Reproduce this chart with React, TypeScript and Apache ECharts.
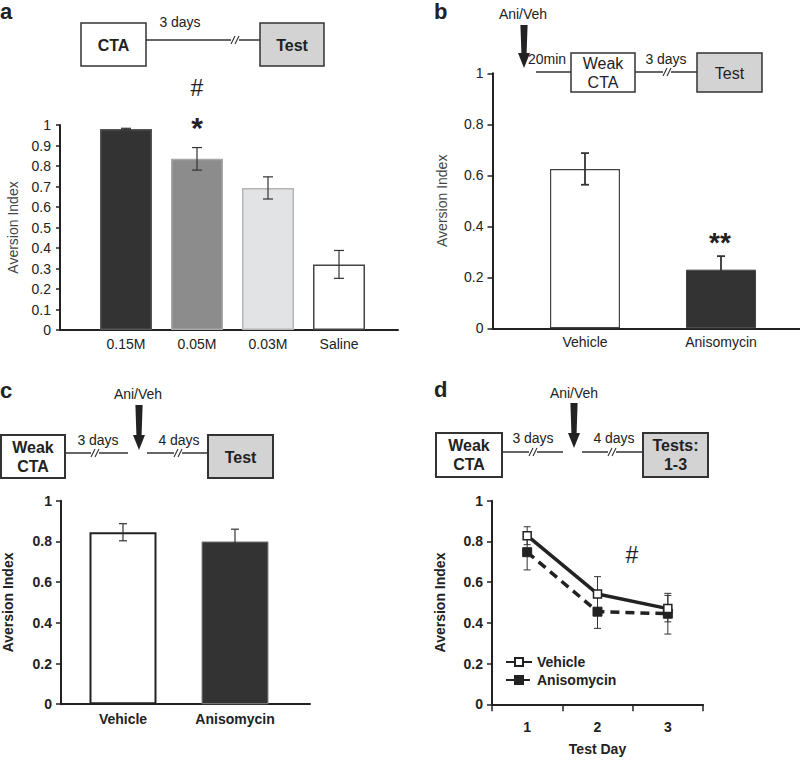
import React, { useEffect, useRef } from "react";
import * as echarts from "echarts";

const FONT = "'Liberation Sans', Arial, Helvetica, sans-serif";

// Panel a
const aCats = ["0.15M", "0.05M", "0.03M", "Saline"];
const aMeans = [0.98, 0.835, 0.693, 0.32];
const aErrs = [0.004, 0.055, 0.054, 0.068];
// Panel b
const bCats = ["Vehicle", "Anisomycin"];
const bMeans = [0.625, 0.23];
const bErrs = [0.062, 0.053];
// Panel c
const cCats = ["Vehicle", "Anisomycin"];
const cMeans = [0.845, 0.8];
const cErrs = [0.042, 0.06];
// Panel d
const dDays = ["1", "2", "3"];
const dVehicle = [0.828, 0.542, 0.47];
const dVehicleErr = [0.044, 0.085, 0.065];
const dAniso = [0.747, 0.455, 0.445];
const dAnisoErr = [0.087, 0.082, 0.1];

const aColors = ["#333333", "#8c8c8c", "#e2e3e5", "#ffffff"];
const aBorders = ["#555555", "#a8a8a8", "#b5b5b5", "#444444"];

function errRender(cap: number, lw: number, color: string) {
  return (params: any, api: any) => {
    const x = api.value(0);
    const lo = api.value(1);
    const hi = api.value(2);
    const p1 = api.coord([x, hi]);
    const p2 = api.coord([x, lo]);
    const w = cap / 2;
    const style = { stroke: color, lineWidth: lw };
    return {
      type: "group",
      children: [
        { type: "line", shape: { x1: p1[0], y1: p1[1], x2: p2[0], y2: p2[1] }, style },
        { type: "line", shape: { x1: p1[0] - w, y1: p1[1], x2: p1[0] + w, y2: p1[1] }, style },
        { type: "line", shape: { x1: p2[0] - w, y1: p2[1], x2: p2[0] + w, y2: p2[1] }, style },
      ],
    };
  };
}

function errData(means: number[], errs: number[]) {
  return means.map((m, i) => [i, m - errs[i], m + errs[i]]);
}

function txt(x: number, y: number, text: string, size: number, weight: string = "normal", align: string = "center", lineHeight?: number) {
  return {
    type: "text",
    x,
    y,
    style: {
      text,
      fontSize: size,
      fontWeight: weight,
      fontFamily: FONT,
      fill: "#222",
      align,
      verticalAlign: "middle",
      lineHeight: lineHeight || size * 1.2,
    },
  };
}

function box(x: number, y: number, w: number, h: number, fill: string, lw: number) {
  return {
    type: "rect",
    shape: { x, y, width: w, height: h },
    style: { fill, stroke: "#333", lineWidth: lw },
  };
}

function hline(x1: number, x2: number, y: number, lw = 1.5) {
  return { type: "line", shape: { x1, y1: y, x2, y2: y }, style: { stroke: "#333", lineWidth: lw } };
}

function breakLine(x1: number, x2: number, y: number, bx: number) {
  const els: any[] = [hline(x1, bx - 4, y), hline(bx + 4, x2, y)];
  [-2, 2].forEach((dx) => {
    els.push({
      type: "line",
      shape: { x1: bx + dx - 2, y1: y + 4, x2: bx + dx + 2, y2: y - 4 },
      style: { stroke: "#333", lineWidth: 1.1 },
    });
  });
  return els;
}

function arrow(x: number, yTop: number, yBot: number) {
  const h = yBot - 15;
  return {
    type: "polygon",
    shape: {
      points: [
        [x - 3.6, yTop],
        [x + 3.6, yTop],
        [x + 2.6, h],
        [x + 6, h],
        [x, yBot],
        [x - 6, h],
        [x - 2.6, h],
      ],
    },
    style: { fill: "#222" },
  };
}

const axisLineStyle = { color: "#222", width: 2 };

export default function App() {
  const ref = useRef<HTMLDivElement>(null);
  useEffect(() => {
    if (!ref.current) return;
    const chart = echarts.init(ref.current, undefined, { renderer: "svg", width: 800, height: 760 });

    const grids = [
      { left: 60, top: 125, width: 338, height: 205 }, // 0 a axis
      { left: 90.5, top: 125, width: 284, height: 205 }, // 1 a bars
      { left: 492.5, top: 73.3, width: 307, height: 255 }, // 2 b axis
      { left: 517, top: 73.3, width: 272, height: 255 }, // 3 b bars
      { left: 61, top: 500.7, width: 249, height: 203.5 }, // 4 c axis
      { left: 67, top: 500.7, width: 224, height: 203.5 }, // 5 c bars
      { left: 492, top: 500.7, width: 211, height: 203.6 }, // 6 d
    ];

    const lineOnlyX = (gi: number) => ({
      type: "value",
      gridIndex: gi,
      min: 0,
      max: 1,
      axisLine: { show: true, lineStyle: axisLineStyle },
      axisTick: { show: false },
      axisLabel: { show: false },
      splitLine: { show: false },
    });
    const catX = (gi: number, data: string[], bold: boolean, size: number, margin: number) => ({
      type: "category",
      gridIndex: gi,
      data,
      axisLine: { show: false },
      axisTick: { show: false },
      axisLabel: { fontFamily: FONT, fontSize: size, fontWeight: bold ? "bold" : "normal", color: "#222", margin },
      splitLine: { show: false },
    });
    const shownY = (gi: number, interval: number, bold: boolean, tickLen: number, nameGap: number) => ({
      type: "value",
      gridIndex: gi,
      min: 0,
      max: 1,
      interval,
      name: "Aversion Index",
      nameLocation: "middle",
      nameGap,
      nameTextStyle: { fontFamily: FONT, fontSize: 14, fontWeight: bold ? "bold" : "normal", color: bold ? "#222" : "#444" },
      axisLine: { show: true, lineStyle: axisLineStyle },
      axisTick: { show: true, length: tickLen, lineStyle: { color: "#222", width: 1.5 } },
      axisLabel: { fontFamily: FONT, fontSize: 14, fontWeight: bold ? "bold" : "normal", color: "#222", margin: 9 },
      splitLine: { show: false },
    });
    const hiddenY = (gi: number) => ({ type: "value", gridIndex: gi, min: 0, max: 1, show: false });

    const xAxis = [
      lineOnlyX(0),
      catX(1, aCats, false, 14, 7),
      lineOnlyX(2),
      catX(3, bCats, false, 14, 7),
      lineOnlyX(4),
      catX(5, cCats, true, 14, 8),
      {
        type: "category",
        gridIndex: 6,
        data: dDays,
        name: "Test Day",
        nameLocation: "middle",
        nameGap: 38,
        nameTextStyle: { fontFamily: FONT, fontSize: 14, fontWeight: "bold", color: "#222" },
        axisLine: { show: true, lineStyle: axisLineStyle },
        axisTick: { show: true, length: 7, lineStyle: { color: "#222", width: 1.5 } },
        axisLabel: { fontFamily: FONT, fontSize: 14, fontWeight: "bold", color: "#222", margin: 16 },
        splitLine: { show: false },
      },
    ];
    const yAxis = [
      shownY(0, 0.1, false, 4, 40),
      hiddenY(1),
      shownY(2, 0.2, false, 5, 44),
      hiddenY(3),
      shownY(4, 0.2, true, 5, 46),
      hiddenY(5),
      shownY(6, 0.2, true, 5, 45),
    ];

    const series: any[] = [
      {
        type: "bar",
        xAxisIndex: 1,
        yAxisIndex: 1,
        barWidth: 52,
        data: aMeans.map((v, i) => ({
          value: v,
          itemStyle: { color: aColors[i], borderColor: aBorders[i], borderWidth: 1.5 },
        })),
      },
      {
        type: "custom",
        name: "errA",
        xAxisIndex: 1,
        yAxisIndex: 1,
        renderItem: errRender(10, 1.2, "#333"),
        encode: { x: 0, y: [1, 2] },
        data: errData(aMeans, aErrs),
        z: 5,
      },
      {
        type: "bar",
        xAxisIndex: 3,
        yAxisIndex: 3,
        barWidth: 70,
        data: bMeans.map((v, i) => ({
          value: v,
          itemStyle:
            i === 0
              ? { color: "#ffffff", borderColor: "#444", borderWidth: 1.2 }
              : { color: "#333333", borderColor: "#444", borderWidth: 1 },
        })),
      },
      {
        type: "custom",
        name: "errB",
        xAxisIndex: 3,
        yAxisIndex: 3,
        renderItem: errRender(8, 1.8, "#333"),
        encode: { x: 0, y: [1, 2] },
        data: errData(bMeans, bErrs),
        z: 5,
      },
      {
        type: "bar",
        xAxisIndex: 5,
        yAxisIndex: 5,
        barWidth: 67,
        data: cMeans.map((v, i) => ({
          value: v,
          itemStyle:
            i === 0
              ? { color: "#ffffff", borderColor: "#222", borderWidth: 2 }
              : { color: "#333333", borderColor: "#888", borderWidth: 1 },
        })),
      },
      {
        type: "custom",
        name: "errC",
        xAxisIndex: 5,
        yAxisIndex: 5,
        renderItem: errRender(8, 1.2, "#333"),
        encode: { x: 0, y: [1, 2] },
        data: errData(cMeans, cErrs),
        z: 5,
      },
      {
        type: "custom",
        name: "errDA",
        xAxisIndex: 6,
        yAxisIndex: 6,
        renderItem: errRender(7, 1, "#333"),
        encode: { x: 0, y: [1, 2] },
        data: errData(dAniso, dAnisoErr),
        z: 1,
      },
      {
        type: "custom",
        name: "errDV",
        xAxisIndex: 6,
        yAxisIndex: 6,
        renderItem: errRender(7, 1, "#333"),
        encode: { x: 0, y: [1, 2] },
        data: errData(dVehicle, dVehicleErr),
        z: 1,
      },
      {
        type: "line",
        name: "Anisomycin",
        xAxisIndex: 6,
        yAxisIndex: 6,
        data: dAniso,
        symbol: "rect",
        symbolSize: 9,
        lineStyle: { color: "#222", width: 3.5, type: [9, 6] },
        itemStyle: { color: "#222", borderColor: "#222", borderWidth: 1 },
        z: 3,
      },
      {
        type: "line",
        name: "Vehicle",
        xAxisIndex: 6,
        yAxisIndex: 6,
        data: dVehicle,
        symbol: "rect",
        symbolSize: 8,
        lineStyle: { color: "#222", width: 3.5 },
        itemStyle: { color: "#ffffff", borderColor: "#222", borderWidth: 1.5 },
        z: 4,
      },
    ];

    const graphic: any[] = [
      // panel labels
      txt(0, 11, "a", 22, "bold", "left"),
      txt(434, 11, "b", 22, "bold", "left"),
      txt(0, 390, "c", 22, "bold", "left"),
      txt(434, 389, "d", 22, "bold", "left"),
      // panel a schema
      box(81, 23, 65, 43, "#ffffff", 1.5),
      txt(113.5, 45, "CTA", 16, "bold"),
      ...breakLine(146, 260, 40, 235),
      box(260, 23, 64, 43, "#d3d3d3", 1.5),
      txt(292, 45, "Test", 16, "bold"),
      txt(180, 22, "3 days", 14),
      txt(197, 88, "#", 23),
      txt(197, 127, "*", 30, "bold"),
      // panel b schema
      txt(523, 14, "Ani/Veh", 14),
      arrow(524, 25, 68),
      txt(547, 59, "20min", 14),
      hline(536, 571, 72),
      box(571, 53, 64, 39, "#ffffff", 1.5),
      txt(603, 73, "Weak\nCTA", 16, "normal", "center", 19),
      ...breakLine(635, 697, 72, 667),
      txt(666, 59, "3 days", 14),
      box(697, 53, 65, 39, "#d3d3d3", 1.5),
      txt(729.5, 73, "Test", 16),
      txt(720, 242, "**", 28, "bold"),
      // panel c schema
      txt(138, 394, "Ani/Veh", 14),
      arrow(139, 405, 450),
      box(1, 435, 64, 43, "#ffffff", 2),
      txt(33, 457, "Weak\nCTA", 16, "bold", "center", 19),
      ...breakLine(65, 128, 453, 95),
      txt(98, 440, "3 days", 14),
      ...breakLine(147, 208, 453, 178),
      txt(179, 440, "4 days", 14),
      box(208, 435, 65, 43, "#d3d3d3", 2),
      txt(240.5, 457, "Test", 16, "bold"),
      // panel d schema
      txt(574, 393, "Ani/Veh", 14),
      arrow(574, 403, 448),
      box(436, 433, 66, 44, "#ffffff", 2),
      txt(469, 455, "Weak\nCTA", 16, "bold", "center", 19),
      ...breakLine(502, 563, 452, 533),
      txt(533, 438, "3 days", 14),
      ...breakLine(582, 643, 452, 612),
      txt(614, 438, "4 days", 14),
      box(643, 433, 65, 44, "#d3d3d3", 2),
      txt(675.5, 455, "Tests:\n1-3", 16, "bold", "center", 19),
      txt(632, 555, "#", 23),
    ];

    chart.setOption({
      animation: false,
      backgroundColor: "#ffffff",
      textStyle: { fontFamily: FONT },
      grid: grids,
      xAxis,
      yAxis,
      series,
      legend: {
        data: ["Vehicle", "Anisomycin"],
        orient: "vertical",
        left: 505,
        top: 655,
        itemWidth: 26,
        itemHeight: 10,
        itemGap: 4,
        padding: 0,
        textStyle: { fontFamily: FONT, fontSize: 14, fontWeight: "bold", color: "#222" },
      },
      graphic,
    });
    return () => chart.dispose();
  }, []);
  return <div ref={ref} style={{ position: "absolute", left: 0, top: 0, width: 800, height: 760 }} />;
}
